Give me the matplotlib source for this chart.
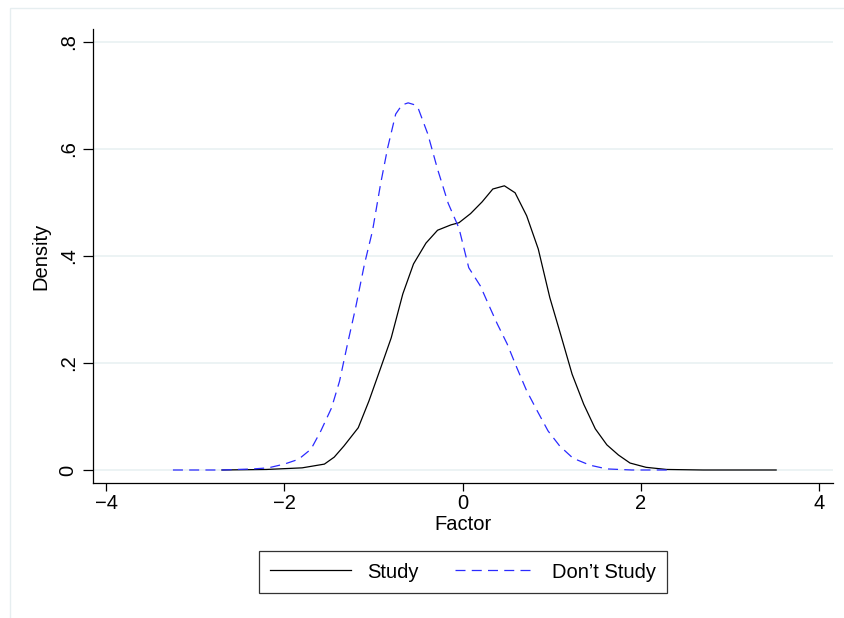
import matplotlib
matplotlib.use("Agg")
import matplotlib.pyplot as plt
from matplotlib.patches import Rectangle

# kernel density of Factor
study_x = [-2.70, -2.20, -1.80, -1.55, -1.44, -1.33, -1.17, -1.05, -0.92, -0.80,
           -0.67, -0.55, -0.41, -0.28, -0.13, -0.04, 0.09, 0.22, 0.34, 0.47,
           0.59, 0.72, 0.85, 0.98, 1.10, 1.23, 1.36, 1.49, 1.62, 1.75,
           1.88, 2.06, 2.29, 2.70, 3.10, 3.52]
study_y = [0.000, 0.001, 0.004, 0.011, 0.024, 0.045, 0.079, 0.129, 0.190, 0.247,
           0.329, 0.385, 0.424, 0.448, 0.458, 0.462, 0.479, 0.501, 0.525, 0.531,
           0.518, 0.475, 0.413, 0.322, 0.254, 0.179, 0.123, 0.077, 0.047, 0.028,
           0.013, 0.005, 0.001, 0.000, 0.000, 0.000]

nostudy_x = [-3.25, -2.70, -2.35, -2.18, -2.00, -1.84, -1.70, -1.59, -1.47, -1.38,
             -1.29, -1.20, -1.10, -1.01, -0.92, -0.84, -0.75, -0.68, -0.61, -0.55,
             -0.50, -0.39, -0.28, -0.16, -0.04, 0.07, 0.20, 0.29, 0.39, 0.50,
             0.61, 0.72, 0.84, 0.96, 1.09, 1.24, 1.43, 1.62, 1.90, 2.36]
nostudy_y = [0.000, 0.000, 0.002, 0.004, 0.011, 0.020, 0.039, 0.073, 0.116, 0.166,
             0.236, 0.303, 0.385, 0.447, 0.534, 0.602, 0.665, 0.682, 0.686, 0.683,
             0.677, 0.628, 0.562, 0.498, 0.452, 0.378, 0.344, 0.310, 0.273, 0.236,
             0.191, 0.148, 0.110, 0.073, 0.045, 0.022, 0.009, 0.002, 0.000, 0.000]

x_ticks = [-4, -2, 0, 2, 4]
x_labels = ["\u22124", "\u22122", "0", "2", "4"]
y_ticks = [0, 0.2, 0.4, 0.6, 0.8]
y_labels = ["0", ".2", ".4", ".6", ".8"]

plt.rcParams["font.family"] = ["Liberation Sans", "DejaVu Sans"]
fs = 14.5

W, H = 844, 618
fig = plt.figure(figsize=(W / 100, H / 100), dpi=100)
# stata outer region border (runs off the right and bottom edge)
fig.patches.append(Rectangle((10 / W, -0.05), 1.0, 1 - 8 / H + 0.05, transform=fig.transFigure,
                             fill=False, edgecolor="#e6eef0", lw=1))

ax = fig.add_axes([93 / W, 1 - 483 / H, (833 - 93) / W, (483 - 29) / H])
ax.set_xlim(-4.147, 4.158)
ax.set_ylim(-0.0243, 0.824)

for y in y_ticks:
    ax.axhline(y, color="#eaf2f3", lw=1.3, zorder=0)

ax.plot(study_x, study_y, color="black", lw=0.9, label="Study")
ax.plot(nostudy_x, nostudy_y, color="#2a2aff", lw=0.9, dashes=(8, 5), label="Don\u2019t Study")

ax.spines["top"].set_visible(False)
ax.spines["right"].set_visible(False)
ax.spines["left"].set_linewidth(0.9)
ax.spines["bottom"].set_linewidth(0.9)

ax.set_xticks(x_ticks)
ax.set_xticklabels(x_labels, fontsize=fs)
ax.set_yticks(y_ticks)
ax.set_yticklabels(y_labels, fontsize=fs, rotation=90, va="center")
ax.tick_params(axis="x", direction="out", length=6, width=0.9, pad=2)
ax.tick_params(axis="y", direction="out", length=7, width=0.9, pad=4)

ax.set_xlabel("Factor", fontsize=fs, labelpad=1)
ax.set_ylabel("Density", fontsize=fs, labelpad=6)

leg = fig.legend(loc="center", bbox_to_anchor=(463 / W, 1 - 572 / H), ncol=2, fontsize=fs,
                 frameon=True, fancybox=False, handlelength=4.0, columnspacing=1.8,
                 borderpad=0.55, handletextpad=0.8)
leg.get_frame().set_edgecolor("black")
leg.get_frame().set_linewidth(0.9)

fig.savefig("out.png", dpi=100, facecolor="white")
